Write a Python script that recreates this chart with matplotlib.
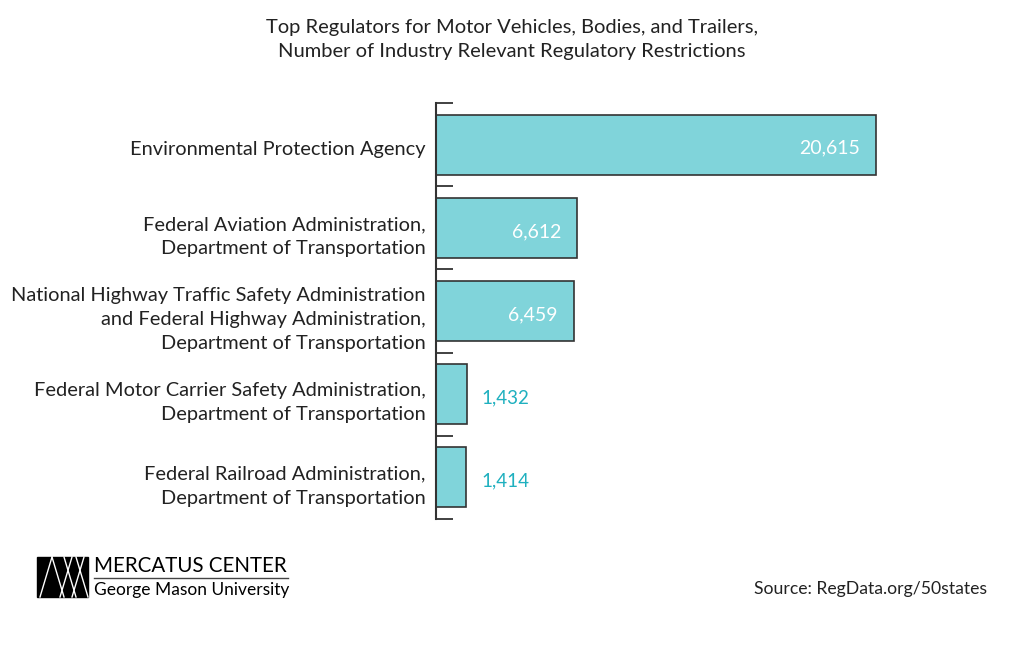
import matplotlib
matplotlib.use("Agg")
import matplotlib.pyplot as plt
from matplotlib.patches import Rectangle
from matplotlib.lines import Line2D

categories = [
    "Environmental Protection Agency",
    "Federal Aviation Administration,\nDepartment of Transportation",
    "National Highway Traffic Safety Administration\nand Federal Highway Administration,\nDepartment of Transportation",
    "Federal Motor Carrier Safety Administration,\nDepartment of Transportation",
    "Federal Railroad Administration,\nDepartment of Transportation",
]
values = [20615, 6612, 6459, 1432, 1414]
value_labels = ["20,615", "6,612", "6,459", "1,432", "1,414"]

plt.rcParams['font.family'] = ['Lato', 'DejaVu Sans']

fig = plt.figure(figsize=(10.24, 6.52), dpi=100)
ax = fig.add_axes([436/1024, 1-519/652, (970-436)/1024, (519-103)/652])

bar_color = "#80d4da"
edge_color = "#333333"
text_color = "#222222"
teal = "#1fb0bf"

y = list(range(len(categories)))
ax.barh(y, values, height=0.72, color=bar_color, edgecolor=edge_color, linewidth=1.2)
ax.set_ylim(len(categories)-0.5, -0.5)
ax.set_xlim(0, 25000)

text_shift = 0.045
for i, (v, lab) in enumerate(zip(values, value_labels)):
    if v > 5000:
        ax.text(v - 750, i + text_shift, lab, ha='right', va='center', color='white', fontsize=14)
    else:
        ax.text(v + 700, i + text_shift, lab, ha='left', va='center', color=teal, fontsize=13.5)

ax.set_yticks([i + text_shift for i in y])
ax.set_yticklabels(categories, fontsize=14.4, color=text_color, linespacing=1.5)
ax.tick_params(axis='y', which='major', length=0, pad=7.5)
ax.set_yticks([i - 0.5 for i in range(len(categories)+1)], minor=True)
ax.tick_params(axis='y', which='minor', direction='in', length=12, width=1.3, color="#333333")
for t in ax.get_yticklabels():
    t.set_horizontalalignment('right')

ax.set_xticks([])
for s in ['top', 'right', 'bottom']:
    ax.spines[s].set_visible(False)
ax.spines['left'].set_linewidth(1.5)
ax.spines['left'].set_color("#333333")

fig.text(0.5, 1-39.5/652, "Top Regulators for Motor Vehicles, Bodies, and Trailers,\nNumber of Industry Relevant Regulatory Restrictions",
         ha='center', va='center', fontsize=14.5, color=text_color, linespacing=1.5)

fig.text(987/1024, 1-589/652, "Source: RegData.org/50states", ha='right', va='center', fontsize=12.7, color=text_color)

# Logo
lx0, ly0, lw, lh = 37/1024, 1-597/652, 51/1024, 40/652
fig.patches.append(Rectangle((lx0, ly0), lw, lh, transform=fig.transFigure, color='black'))
def px(x, yy):
    return x/1024, 1-yy/652
segs = [((40, 597), (52, 557)), ((52, 557), (64, 597)), ((60, 597), (72, 557)),
        ((64, 557), (76, 597)), ((72, 597), (84, 557)), ((76, 557), (88, 597))]
for (a, b) in segs:
    p1 = px(*a); p2 = px(*b)
    fig.lines.append(Line2D([p1[0], p2[0]], [p1[1], p2[1]], transform=fig.transFigure, color='white', linewidth=1.0))
fig.text(94/1024, 1-566/652, "MERCATUS CENTER", ha='left', va='center', fontsize=14.8, color='black')
fig.lines.append(Line2D([94/1024, 288/1024], [1-578/652, 1-578/652], transform=fig.transFigure, color='#444444', linewidth=1.0))
fig.text(94/1024, 1-590/652, "George Mason University", ha='left', va='center', fontsize=12.5, color='black')

fig.savefig("out.png", dpi=100, facecolor='white')
